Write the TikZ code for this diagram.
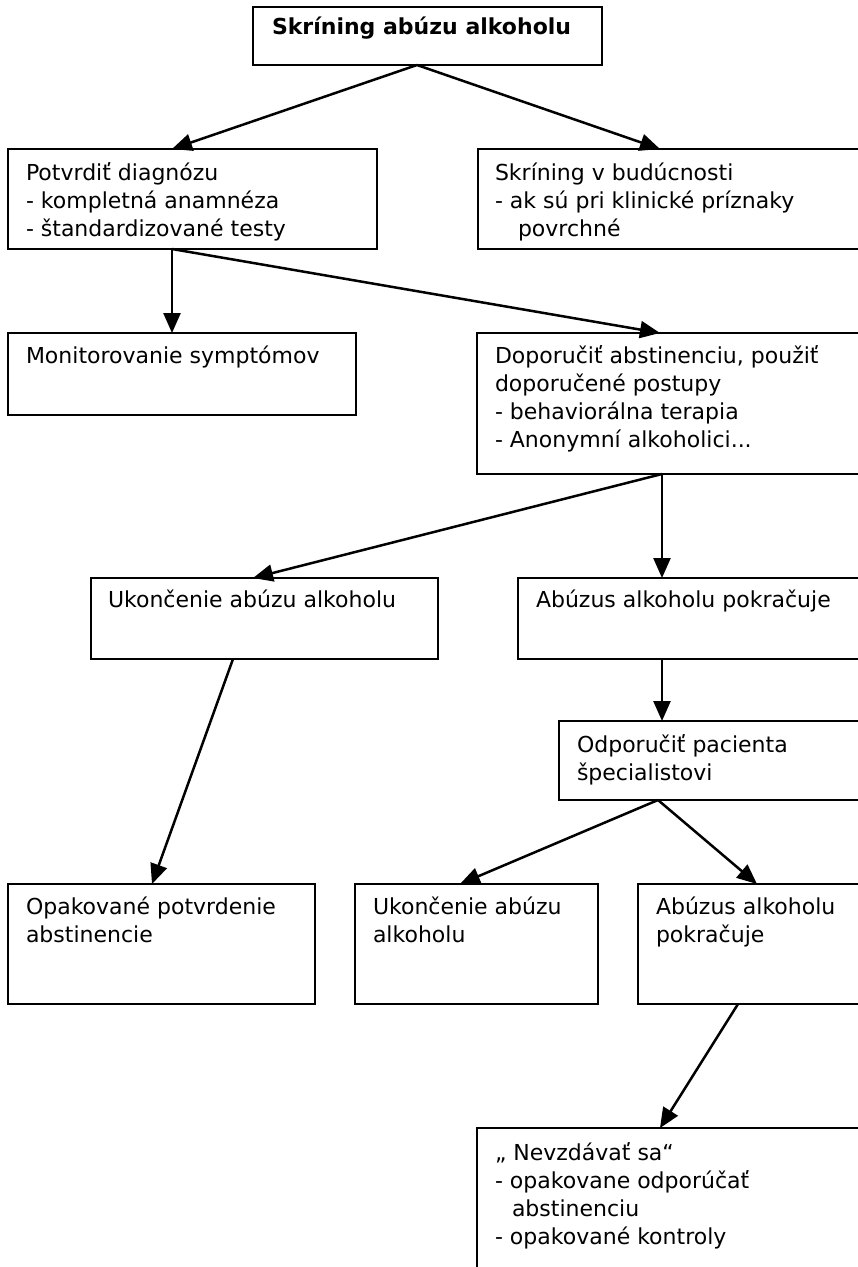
\documentclass[tikz,border=0pt]{standalone}
\usepackage{fontspec}
\setmainfont{DejaVu Sans}
\usetikzlibrary{arrows.meta,calc}
\newcommand{\lns}[1]{\begin{tabular}{@{}l@{}}#1\end{tabular}}
\begin{document}
\begin{tikzpicture}[x=1pt,y=-1pt,
  box/.style={draw,line width=1.9pt,anchor=north west,inner sep=0pt,outer sep=0pt},
  txt/.style={anchor=north west,inner sep=0pt,outer sep=0pt,font=\fontsize{22}{28}\selectfont},
  arr/.style={line width=2.5pt,-{Triangle[length=20pt,width=17pt]}}]
\useasboundingbox (0,0) rectangle (858,1267);
\clip (0,0) rectangle (858,1267);
% boxes
\node[box,minimum width=349pt,minimum height=58pt] (b1) at (253,7) {};
\node[box,minimum width=369pt,minimum height=100pt] (b2) at (8,149) {};
\node[box,minimum width=402pt,minimum height=100pt] (b3) at (478,149) {};
\node[box,minimum width=348pt,minimum height=82pt] (b4) at (8,333) {};
\node[box,minimum width=403pt,minimum height=141pt] (b5) at (477,333) {};
\node[box,minimum width=347pt,minimum height=81pt] (b6) at (91,578) {};
\node[box,minimum width=362pt,minimum height=81pt] (b7) at (518,578) {};
\node[box,minimum width=321pt,minimum height=79pt] (b8) at (559,721) {};
\node[box,minimum width=307pt,minimum height=120pt] (b9) at (8,884) {};
\node[box,minimum width=243pt,minimum height=120pt] (b10) at (355,884) {};
\node[box,minimum width=242pt,minimum height=120pt] (b11) at (638,884) {};
\node[box,minimum width=403pt,minimum height=200pt] (b12) at (477,1128) {};
% texts
\node[txt] (t1) at (272,14.4) {\lns{\bfseries Skríning abúzu alkoholu}};
\node[txt] (t2) at (26,160.4) {\lns{Potvrdiť diagnózu\\- kompletná anamnéza\\- štandardizované testy}};
\node[txt] (t3) at (495,160.4) {\lns{Skríning v budúcnosti\\- ak sú pri klinické príznaky\\\hspace*{23pt}povrchné}};
\node[txt] (t4) at (26,343.4) {\lns{Monitorovanie symptómov}};
\node[txt] (t5) at (495,343.4) {\lns{Doporučiť abstinenciu, použiť\\doporučené postupy\\- behaviorálna terapia\\- Anonymní alkoholici...}};
\node[txt] (t6) at (108,587.4) {\lns{Ukončenie abúzu alkoholu}};
\node[txt] (t7) at (536,587.4) {\lns{Abúzus alkoholu pokračuje}};
\node[txt] (t8) at (577,732.4) {\lns{Odporučiť pacienta\\špecialistovi}};
\node[txt] (t9) at (26,894.4) {\lns{Opakované potvrdenie\\abstinencie}};
\node[txt] (t10) at (373,894.4) {\lns{Ukončenie abúzu\\alkoholu}};
\node[txt] (t11) at (656,894.4) {\lns{Abúzus alkoholu\\pokračuje}};
\node[txt] (t12) at (495,1140.4) {\lns{„ Nevzdávať sa“\\- opakovane odporúčať\\\hspace*{17pt}abstinenciu\\- opakované kontroly}};
% connectors
\draw[arr] ($(b1.south west)+(164,0)$) -- ($(b2.north west)+(164,0)$);
\draw[arr] ($(b1.south west)+(164,0)$) -- ($(b3.north west)+(182,0)$);
\draw[arr] ($(b2.south west)+(164,0)$) -- ($(b4.north west)+(164,0)$);
\draw[arr] ($(b2.south west)+(164,0)$) -- ($(b5.north west)+(183,0)$);
\draw[arr] ($(b5.south west)+(185,0)$) -- ($(b7.north west)+(144,0)$);
\draw[arr] ($(b5.south west)+(185,0)$) -- ($(b6.north west)+(162,0)$);
\draw[arr] ($(b7.south west)+(144,0)$) -- ($(b8.north west)+(103,0)$);
\draw[arr] ($(b6.south west)+(142,0)$) -- ($(b9.north west)+(144,0)$);
\draw[arr] ($(b8.south west)+(99,0)$) -- ($(b10.north west)+(105,0)$);
\draw[arr] ($(b8.south west)+(99,0)$) -- ($(b11.north west)+(119,0)$);
\draw[arr] ($(b11.south west)+(100,0)$) -- ($(b12.north west)+(183,0)$);
\end{tikzpicture}
\end{document}
